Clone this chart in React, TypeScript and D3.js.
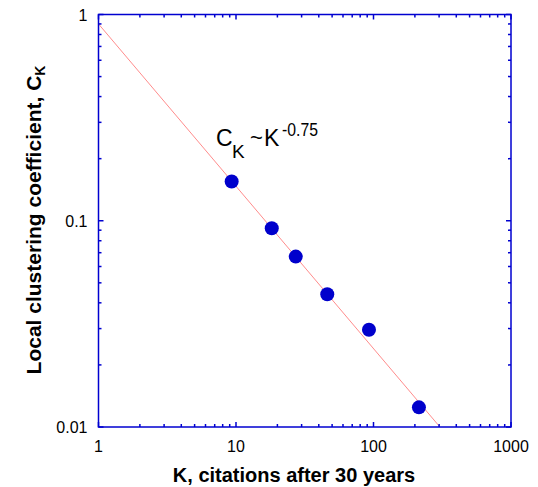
import React from 'react';
import * as d3 from 'd3';

// citations after 30 years vs local clustering coefficient
const degreeK = [9.3, 18.2, 27.2, 46.1, 92.7, 214];
const clusteringC = [0.155, 0.092, 0.067, 0.044, 0.0296, 0.01245];
const xTickLabels = ['1', '10', '100', '1000'];
const yTickLabels = ['0.01', '0.1', '1'];
// fitted power law as drawn: C = fitA * K^fitB
const fitA = 0.9;
const fitB = -0.787;

const W = 538;
const H = 487;
const left = 98.5, right = 511, top = 14.5, bottom = 427;
const axisColor = '#0000d0';
const font = 'Liberation Sans, Arial, sans-serif';

export default function App() {
  const x = d3.scaleLog().domain([1, 1000]).range([left, right]);
  const y = d3.scaleLog().domain([0.01, 1]).range([bottom, top]);

  const xMinor: number[] = [];
  for (let d = 1; d < 1000; d *= 10) for (let m = 2; m <= 9; m++) xMinor.push(d * m);
  const yMinor: number[] = [];
  for (let d = 0.01; d < 0.9; d *= 10) for (let m = 2; m <= 9; m++) yMinor.push(d * m);
  const xMajor = xTickLabels.map(Number);
  const yMajor = yTickLabels.map(Number);

  const kEnd = Math.pow(0.01 / fitA, 1 / fitB);
  const fitLine = d3.line<number>().x(k => x(k)).y(k => y(fitA * Math.pow(k, fitB)))([1, kEnd]);

  const minorLen = 3, majorLen = 5;

  return (
    <svg width={W} height={H} style={{ position: 'absolute', left: 0, top: 0 }}>
      <rect width={W} height={H} fill="#fff" />
      <path d={fitLine || ''} stroke="#ff8c8c" strokeWidth={1} fill="none" />
      {degreeK.map((k, i) => (
        <circle key={i} cx={x(k)} cy={y(clusteringC[i])} r={7} fill="#0000cc" />
      ))}
      <g stroke={axisColor} strokeWidth={1.5}>
        <rect x={left} y={top} width={right - left} height={bottom - top} fill="none" />
        {xMinor.map(v => (
          <g key={'xm' + v}>
            <line x1={x(v)} x2={x(v)} y1={bottom} y2={bottom - minorLen} />
            <line x1={x(v)} x2={x(v)} y1={top} y2={top + minorLen} />
          </g>
        ))}
        {xMajor.map(v => (
          <g key={'xM' + v}>
            <line x1={x(v)} x2={x(v)} y1={bottom} y2={bottom - majorLen} />
            <line x1={x(v)} x2={x(v)} y1={top} y2={top + majorLen} />
          </g>
        ))}
        {yMinor.map(v => (
          <g key={'ym' + v}>
            <line x1={left} x2={left + minorLen} y1={y(v)} y2={y(v)} />
            <line x1={right} x2={right - minorLen} y1={y(v)} y2={y(v)} />
          </g>
        ))}
        {yMajor.map(v => (
          <g key={'yM' + v}>
            <line x1={left} x2={left + majorLen} y1={y(v)} y2={y(v)} />
            <line x1={right} x2={right - majorLen} y1={y(v)} y2={y(v)} />
          </g>
        ))}
      </g>
      <g fontFamily={font} fontSize={16} fill="#000">
        {xTickLabels.map(t => (
          <text key={'xl' + t} x={x(Number(t))} y={bottom + 25} textAnchor="middle">{t}</text>
        ))}
        {yTickLabels.map(t => (
          <text key={'yl' + t} x={left - 11} y={y(Number(t)) + 6} textAnchor="end">{t}</text>
        ))}
      </g>
      <text x={294} y={481.5} textAnchor="middle" fontFamily={font} fontSize={20} fontWeight="bold">
        K, citations after 30 years
      </text>
      <text transform={`translate(41,220) rotate(-90)`} textAnchor="middle" fontFamily={font} fontSize={21} fontWeight="bold">
        Local clustering coefficient, C<tspan fontSize={14} dy={4}>K</tspan>
      </text>
      <g fontFamily={font} fill="#000">
        <text x={216} y={146} fontSize={23}>C</text>
        <text x={232} y={158} fontSize={19}>K</text>
        <text x={250} y={145} fontSize={22}>~</text>
        <text x={264} y={146} fontSize={23}>K</text>
        <text x={282} y={136} fontSize={18} textLength={36} lengthAdjust="spacingAndGlyphs">-0.75</text>
      </g>
    </svg>
  );
}
